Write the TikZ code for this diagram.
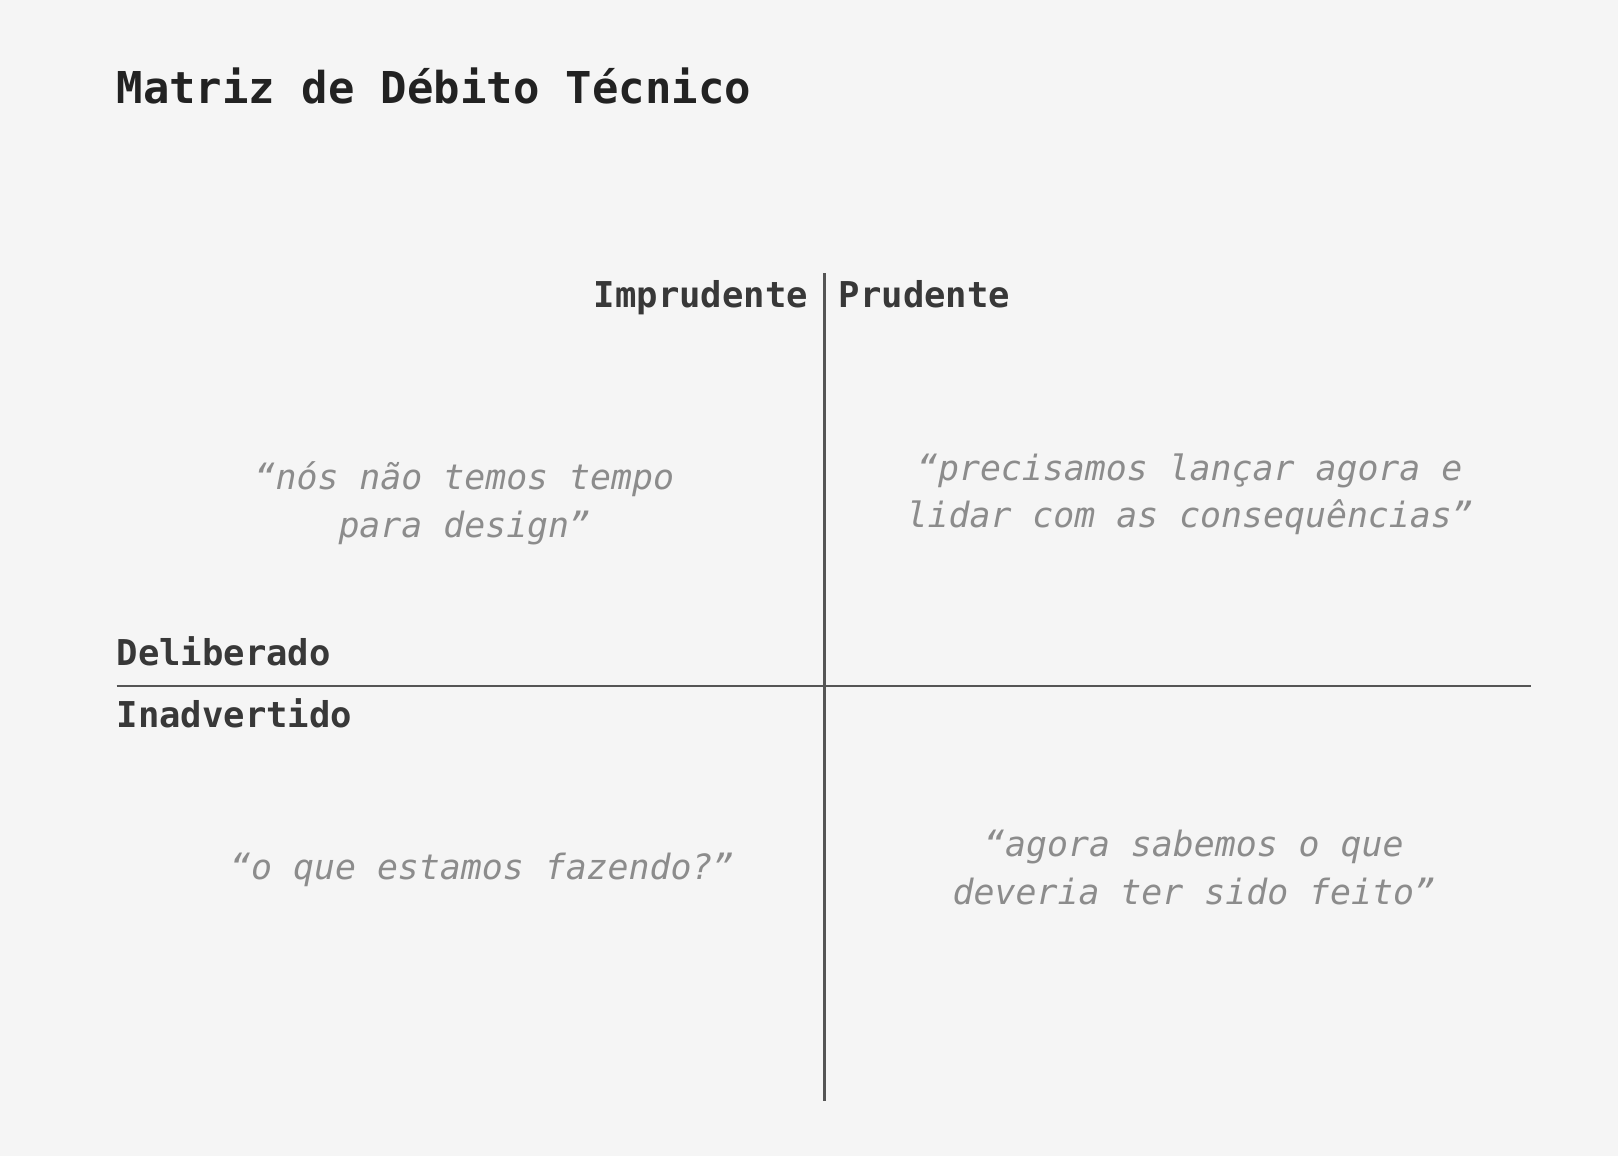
\documentclass[tikz,border=0pt]{standalone}
\usepackage{fontspec}
\usepackage{xcolor}
\usetikzlibrary{positioning}
\setmonofont{DejaVu Sans Mono}
\definecolor{paper}{HTML}{F5F5F5}
\definecolor{ink}{HTML}{222222}
\definecolor{axisgray}{HTML}{555555}
\definecolor{quotegray}{HTML}{8C8C8C}
\tikzset{
	x=0.01cm, y=-0.01cm,
	every node/.append style={inner sep=0pt, outer sep=0pt},
	titletext/.style = {
			anchor=base west,
			text=ink,
			font=\ttfamily\bfseries\fontsize{12.1pt}{14pt}\selectfont,
		},
	axislabel/.style = {
			text=ink!90,
			font=\ttfamily\bfseries\fontsize{9.8pt}{12pt}\selectfont,
		},
	quotetext/.style = {
			align=center,
			text=quotegray,
			font=\ttfamily\itshape\fontsize{9.6pt}{13.2pt}\selectfont,
		},
	axisline/.style = {draw=axisgray, line width=0.6pt},
}

\begin{document}
\begin{tikzpicture}
	% Background and bounding box
	\fill[paper] (0,0) rectangle (1568,1120);
	\useasboundingbox (0,0) rectangle (1568,1120);

	% Title
	\node[titletext] (title) at (113,100) {Matriz de Débito Técnico};

	% Axes
	\coordinate (top) at (799,265);
	\coordinate (bottom) at (799,1067);
	\coordinate (left) at (113,665);
	\coordinate (right) at (1484,665);
	\draw[axisline] (top) -- (bottom);
	\draw[axisline] (left) -- (right);

	% Axis labels
	\node[axislabel, anchor=base east] (imprudente) at (783,298) {Imprudente};
	\node[axislabel, anchor=base west] (prudente) at (813,298) {Prudente};
	\node[axislabel, anchor=base west] (deliberado) at (113,645) {Deliberado};
	\node[axislabel, anchor=base west] (inadvertido) at (113,705) {Inadvertido};

	% Quadrant quotes
	\node[quotetext] (qtl) at (450,488) {“nós não temos tempo\\para design”};
	\node[quotetext] (qtr) at (1153,479) {“precisamos lançar agora e\\lidar com as consequências”};
	\node[quotetext] (qbl) at (467,843) {“o que estamos fazendo?”};
	\node[quotetext] (qbr) at (1157,841) {“agora sabemos o que\\deveria ter sido feito”};
\end{tikzpicture}
\end{document}
